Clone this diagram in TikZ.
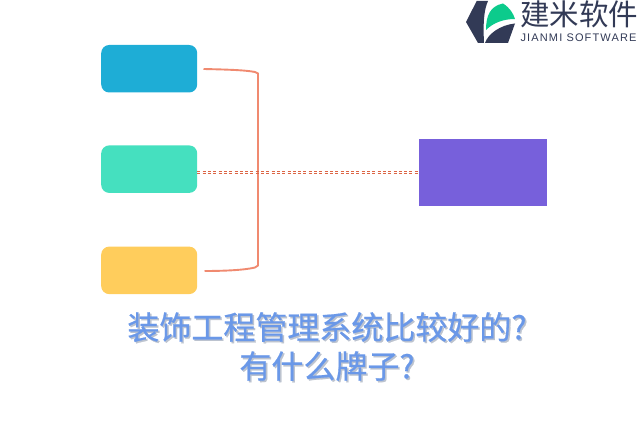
\documentclass[tikz,border=0pt]{standalone}
\usepackage{fontspec}
\setmainfont{Liberation Sans}
\newfontfamily\cjk{Noto Sans CJK SC}
\newfontfamily\cjktitle[FakeBold=0.6]{Noto Sans CJK SC}
\usetikzlibrary{calc}
\definecolor{boxblue}{HTML}{1EADD6}
\definecolor{boxgreen}{HTML}{45E0BF}
\definecolor{boxyellow}{HTML}{FFCD5C}
\definecolor{boxpurple}{HTML}{7760DB}
\definecolor{brace}{HTML}{F08A70}
\definecolor{dashc}{HTML}{DC6545}
\definecolor{titlec}{HTML}{6A98E8}
\definecolor{titlesh}{HTML}{BCC3CF}
\definecolor{logod}{HTML}{323A56}
\definecolor{logog}{HTML}{0CCB8C}
\tikzset{x=1pt,y=-1pt,
 roundbox/.style={rounded corners=8pt,minimum width=96pt,minimum height=47.5pt,inner sep=0pt,anchor=north west},
 bracket/.style={draw=brace,line width=1.9pt},
 dashline/.style={draw=dashc,line width=0.8pt,dash pattern=on 3pt off 2.3pt},
 titletext/.style={font=\cjktitle\fontsize{32}{39}\selectfont,align=center,anchor=center}}
\begin{document}
\begin{tikzpicture}
\useasboundingbox (0,0) rectangle (640,427);
\node[roundbox,fill=boxblue] (a) at (101,44.8) {};
\node[roundbox,fill=boxgreen] (b) at (101,145.2) {};
\node[roundbox,fill=boxyellow] (c) at (101,246.4) {};
\node[fill=boxpurple,minimum width=128pt,minimum height=67pt,inner sep=0pt,anchor=north west] (d) at (419,139) {};
\coordinate (t) at (203.5,69);
\coordinate (u) at (204.5,271);
\draw[bracket] (t) .. controls (225,69.5) and (245,70) .. (255,72) -- (258,73.5) -- (258,265.5) -- (255,267.5) .. controls (245,270) and (225,271) .. (u);
\path[dashline] ($(b.east)+(0,2.1)$) -- ($(d.west |- b.east)+(0,2.1)$);
\path[dashline] ($(b.east)+(0,4.1)$) -- ($(d.west |- b.east)+(0,4.1)$);
\node[titletext,text=titlesh] (ts) at (328.5,348) {装饰工程管理系统比较好的?\\有什么牌子?};
\node[titletext,text=titlec] (tt) at (327,346.5) {装饰工程管理系统比较好的?\\有什么牌子?};
% logo
\fill[logod] (476.7,1) -- (488,1) .. controls (484,10) and (483,22) .. (484,43) -- (478,43) -- (466,22) -- cycle;
\fill[logog] (486,30) .. controls (486,16) and (490,6) .. (503,3.5) .. controls (510,8) and (513,13) .. (515,19) .. controls (503,19) and (493,23) .. (486,30) -- cycle;
\fill[logod] (485,43) .. controls (488,34) and (500,25) .. (515,23.5) -- (508,43) -- cycle;
\node[font=\cjk\fontsize{29.5}{30}\selectfont,text=logod,anchor=center] (l1) at (579,14) {建米软件};
\node[font=\addfontfeature{LetterSpace=10.4}\fontsize{11}{12}\selectfont,text=logod,anchor=center] (l2) at (578.5,38) {JIANMI SOFTWARE};
\end{tikzpicture}
\end{document}
